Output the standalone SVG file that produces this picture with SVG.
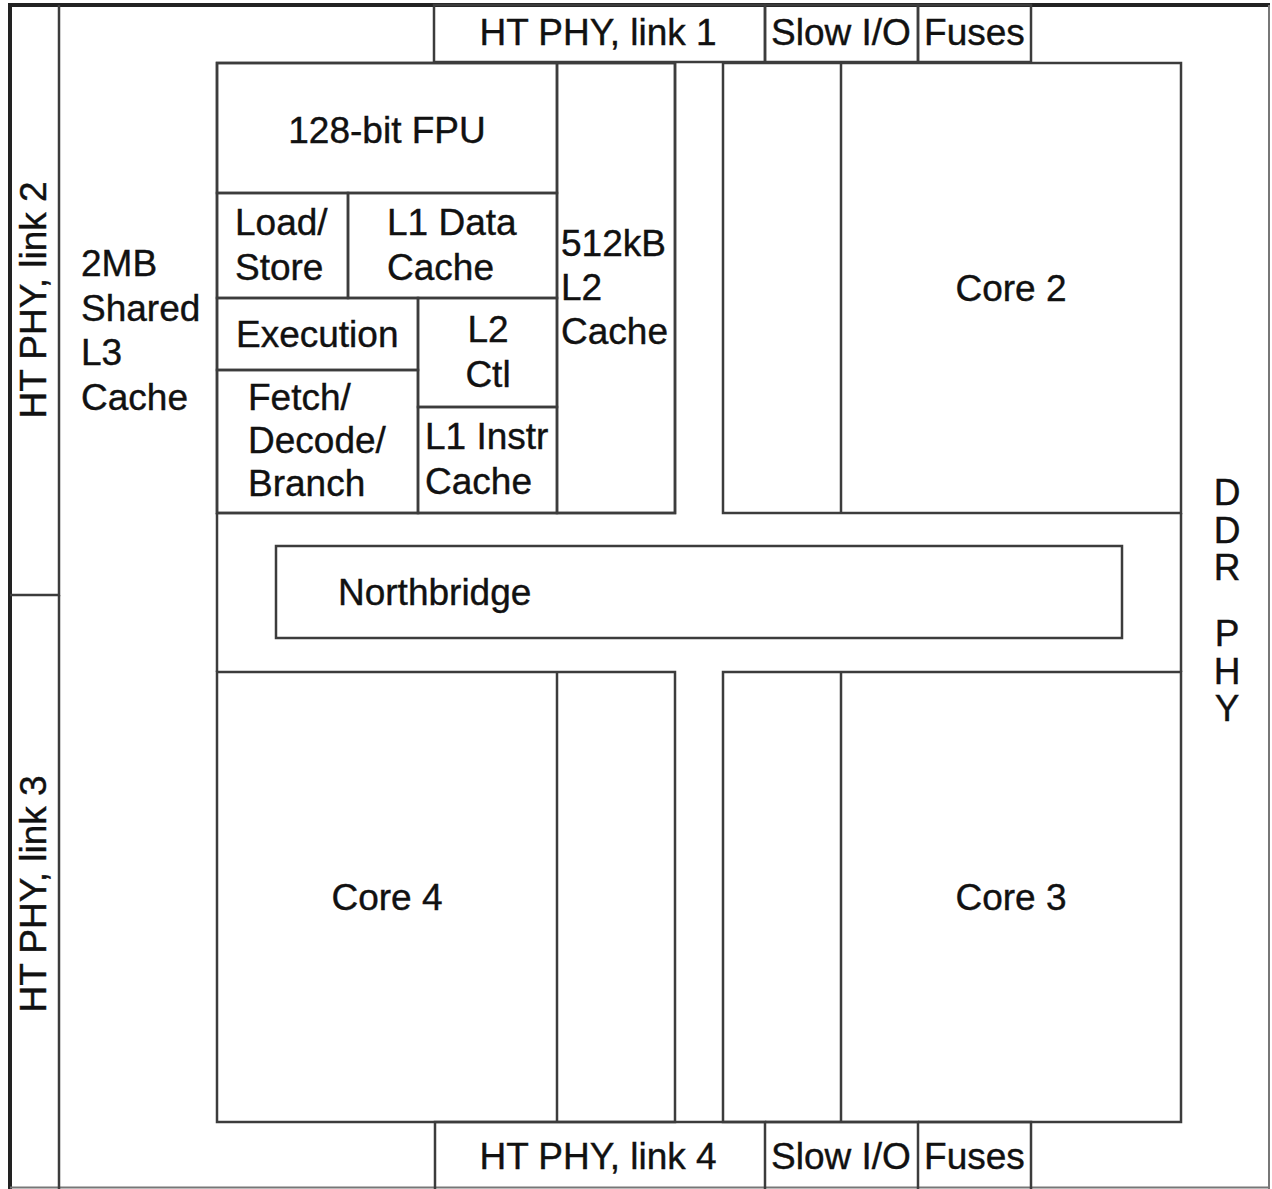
<svg xmlns="http://www.w3.org/2000/svg" width="1272" height="1189" viewBox="0 0 1272 1189">
<style>
  .b { fill: none; stroke: #3c3c3c; stroke-width: 2.5; }
  .o { fill: none; stroke: #222; stroke-width: 4; }
  .t { font-family: "Liberation Sans", Arial, sans-serif; font-size: 37px; fill: #111; stroke: #111; stroke-width: 0.4; }
  .m { text-anchor: middle; }
</style>
<rect width="1272" height="1189" fill="#fff"/>
<g id="frame">
  <path class="o" d="M10,1189 V5 H1270"/>
  <path d="M1269,5 V1189 M10,1187.5 H1270" fill="none" stroke="#777" stroke-width="2"/>
</g>
<g id="ht-phy-link-2">
  <path class="b" d="M59,5 V595 H10"/>
  <text class="t m" transform="translate(46,300) rotate(-90)">HT PHY, link 2</text>
</g>
<g id="ht-phy-link-3">
  <path class="b" d="M59,595 V1189"/>
  <text class="t m" transform="translate(46,894) rotate(-90)">HT PHY, link 3</text>
</g>
<g id="l3-cache">
  <text class="t" x="81" y="276">2MB</text>
  <text class="t" x="81" y="321">Shared</text>
  <text class="t" x="81" y="365">L3</text>
  <text class="t" x="81" y="410">Cache</text>
</g>
<g id="ht-phy-link-1">
  <rect class="b" x="434" y="5" width="331" height="57"/>
  <text class="t m" x="598" y="45">HT PHY, link 1</text>
</g>
<g id="slow-io-top">
  <rect class="b" x="765" y="5" width="153" height="57"/>
  <text class="t m" x="841" y="45">Slow I/O</text>
</g>
<g id="fuses-top">
  <rect class="b" x="918" y="5" width="113" height="57"/>
  <text class="t m" x="974.5" y="45">Fuses</text>
</g>
<g id="core-1">
  <rect class="b" x="217" y="63" width="458" height="450"/>
  <g id="fpu">
    <rect class="b" x="217" y="63" width="340" height="130"/>
    <text class="t m" x="387" y="143">128-bit FPU</text>
  </g>
  <g id="load-store">
    <rect class="b" x="217" y="193" width="131" height="105"/>
    <text class="t" x="235" y="235">Load/</text>
    <text class="t" x="235" y="280">Store</text>
  </g>
  <g id="l1-data">
    <rect class="b" x="348" y="193" width="209" height="105"/>
    <text class="t" x="387" y="235">L1 Data</text>
    <text class="t" x="387" y="280">Cache</text>
  </g>
  <g id="execution">
    <rect class="b" x="217" y="298" width="201" height="72"/>
    <text class="t" x="236" y="347">Execution</text>
  </g>
  <g id="fetch">
    <rect class="b" x="217" y="370" width="201" height="143"/>
    <text class="t" x="248" y="410">Fetch/</text>
    <text class="t" x="248" y="453">Decode/</text>
    <text class="t" x="248" y="496">Branch</text>
  </g>
  <g id="l2-ctl">
    <rect class="b" x="418" y="298" width="139" height="109"/>
    <text class="t m" x="488" y="342">L2</text>
    <text class="t m" x="488" y="387">Ctl</text>
  </g>
  <g id="l1-instr">
    <rect class="b" x="418" y="407" width="139" height="106"/>
    <text class="t" x="425" y="449">L1 Instr</text>
    <text class="t" x="425" y="494">Cache</text>
  </g>
  <g id="l2-cache">
    <rect class="b" x="557" y="63" width="118" height="450"/>
    <text class="t" x="561" y="256">512kB</text>
    <text class="t" x="561" y="300">L2</text>
    <text class="t" x="561" y="344">Cache</text>
  </g>
</g>
<g id="core-2">
  <rect class="b" x="723" y="63" width="458" height="450"/>
  <path class="b" d="M841,63 V513"/>
  <text class="t m" x="1011" y="301">Core 2</text>
</g>
<g id="northbridge-region">
  <path class="b" d="M217,513 V672 M1181,513 V672"/>
  <g id="northbridge">
    <rect class="b" x="276" y="546" width="846" height="92"/>
    <text class="t" x="338" y="605">Northbridge</text>
  </g>
</g>
<g id="core-4">
  <rect class="b" x="217" y="672" width="458" height="450"/>
  <path class="b" d="M557,672 V1122"/>
  <text class="t m" x="387" y="910">Core 4</text>
</g>
<g id="core-3">
  <rect class="b" x="723" y="672" width="458" height="450"/>
  <path class="b" d="M841,672 V1122"/>
  <text class="t m" x="1011" y="910">Core 3</text>
</g>
<g id="ht-phy-link-4">
  <path class="b" d="M435,1189 V1122 H765 V1189"/>
  <text class="t m" x="598" y="1169">HT PHY, link 4</text>
</g>
<g id="slow-io-bottom">
  <path class="b" d="M765,1122 H918 V1189"/>
  <text class="t m" x="841" y="1169">Slow I/O</text>
</g>
<g id="fuses-bottom">
  <path class="b" d="M918,1122 H1031 V1189"/>
  <text class="t m" x="974.5" y="1169">Fuses</text>
</g>
<g id="ddr-phy">
  <text class="t m" x="1227" y="505">D</text>
  <text class="t m" x="1227" y="543">D</text>
  <text class="t m" x="1227" y="580">R</text>
  <text class="t m" x="1227" y="646">P</text>
  <text class="t m" x="1227" y="684">H</text>
  <text class="t m" x="1227" y="721">Y</text>
</g>
<g id="connectors"></g>
</svg>
